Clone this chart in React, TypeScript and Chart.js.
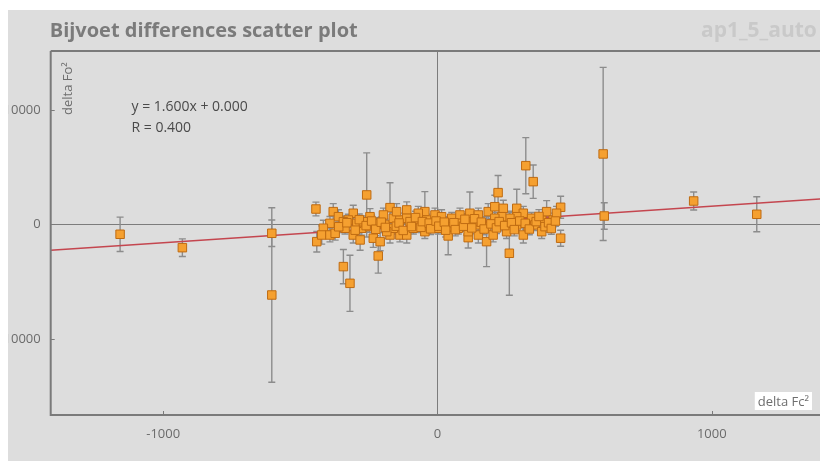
import React, { useEffect, useRef } from "react";
import { Chart, registerables } from "chart.js";

Chart.register(...registerables);

// ---- data (delta Fc², delta Fo², sigma of delta Fo²) ----
const deltaFc: number[] = [
  -1157, -930, -604, -604, 604, 608, 934, 1164,
  -443, -258, -173, -380, -361, -307, -325, -343, -392, -416, -440, -422,
  -392, -373, -307, -282, -234, -209, -216, -343, -276, -246, -248, -221,
  -197, -191, -173, -161, -137, -112, -112, -137, -112, -76, -88, -46,
  -39, -46, -15, -9, -70, -337, -294, -270, -161, -149, -185, -319,
  39, 112, 15, 52, 82, 118, 149, 185, 209, 240, 289, 313, 289, 264, 234, 209,
  343, 380, 398, 422, 449, 434, 3, 15, 76, 112, 149, 179, 179, 203, 252, 262,
  289, 313, 331, 355, 380, 392, 449, 149, 46, 88, 130, 322, 349, 221,
  -360, -330, -300, -285, -260, -240, -225, -205, -190, -150, -140, -125,
  -100, -95, -80, -60, -55, -30, -25, -5, 5, 25, 30, 60, 65, 95, 100, 125,
  135, 160, 170, 195, 215, 225, 245, 270, 280, 300, 320, 335, 360, 370,
  405, 415, 430,
];
const deltaFo: number[] = [
  -856, -2026, -770, -6160, 6160, 740, 2050, 890,
  1350, 2580, 1470, 1120, 680, 980, 390, 240, 100, -330, -1500, -920,
  -920, -770, -920, -1350, -1200, -1500, -2750, -3680, -330, 680, -190, 100,
  830, -40, -920, 540, 390, 1270, 540, -920, -920, 100, -330, 1120,
  390, -630, -40, 830, 980, -330, 100, 240, -330, 1120, -630, -5140,
  -1000, -1150, 680, 540, 830, 980, 830, 1120, 1550, 1410, 1410, 980, 680, 540, 680, 540,
  540, 390, 1120, 390, 1500, 980, -330, -40, -330, -630, -40, -190, -1500, -920, -630, -2515,
  -40, -920, -190, -40, -630, -190, -1200, -920, -190, 100, 240, 5135, 3740, 2780,
  -200, 150, -500, 420, -100, 300, -420, 200, -260, -150, 130, -520,
  250, -180, 600, -250, 250, 120, -380, 300, -150, 200, -500, 150, -450, -150, 450, -300,
  500, 200, -400, 50, -300, 250, -100, 150, -450, 300, 100, -400, 250, 700,
  150, -350, 300,
];
const sigmaFo: number[] = [
  1500, 770, 1160, 7620, 7560, 1160, 790, 1530,
  600, 3670, 2180, 700, 600, 700, 500, 500, 600, 700, 900, 800,
  600, 600, 700, 900, 800, 800, 1500, 1500, 600, 700, 500, 500,
  600, 500, 700, 500, 600, 700, 500, 600, 700, 500, 500, 1750,
  500, 600, 500, 600, 600, 500, 500, 500, 500, 700, 600, 2450,
  1650, 900, 600, 500, 600, 1850, 600, 700, 1000, 700, 1660, 600, 600, 500, 500, 500,
  500, 600, 960, 600, 960, 600, 500, 500, 500, 600, 500, 500, 2180, 600, 600, 3670,
  500, 700, 500, 500, 600, 500, 700, 700, 500, 500, 500, 2450, 1460, 1500,
  500, 450, 600, 500, 450, 500, 550, 450, 500, 450, 500, 600,
  450, 500, 550, 450, 500, 450, 500, 450, 500, 450, 600, 500, 550, 450, 500, 500,
  550, 450, 500, 450, 500, 500, 450, 500, 550, 450, 500, 500, 450, 600,
  500, 500, 450,
];

const xTickValues = [-1000, 0, 1000];
const yTickValues = [-10000, 0, 10000];
const fitSlope = 1.6;
const fitIntercept = 0.0;
const fitR = 0.4;

const titleText = "Bijvoet differences scatter plot";
const subtitleText = "ap1_5_auto";
const xAxisTitle = "delta Fc\u00B2";
const yAxisTitle = "delta Fo\u00B2";

// axis ranges
const X_MIN = -1410;
const X_MAX = 1544;
const Y_MIN = -16640;
const Y_MAX = 15150;

// canvas geometry (canvas x = page x + 32, canvas y = page y - 10)
const CW = 900;
const CH = 451;
const FONT = "'Open Sans', 'DejaVu Sans', sans-serif";

export default function App() {
  const ref = useRef<HTMLCanvasElement | null>(null);

  useEffect(() => {
    const canvas = ref.current;
    if (!canvas) return;

    const points = deltaFc.map((x, i) => ({ x, y: deltaFo[i] }));
    const fitLine = [
      { x: X_MIN, y: fitSlope * X_MIN + fitIntercept },
      { x: X_MAX, y: fitSlope * X_MAX + fitIntercept },
    ];

    const decor = {
      id: "decor",
      beforeDraw(chart: any) {
        const ctx = chart.ctx;
        ctx.save();
        ctx.fillStyle = "#dddddd";
        ctx.fillRect(0, 0, chart.width, chart.height);
        ctx.restore();
      },
      beforeDatasetsDraw(chart: any) {
        const ctx = chart.ctx;
        const a = chart.chartArea;
        const xs = chart.scales.x;
        const ys = chart.scales.y;
        ctx.save();
        ctx.beginPath();
        ctx.rect(a.left, a.top, a.right - a.left, a.bottom - a.top);
        ctx.clip();
        // zero lines
        ctx.strokeStyle = "#7c7c7c";
        ctx.lineWidth = 1;
        const x0 = Math.round(xs.getPixelForValue(0)) + 0.5;
        const y0 = Math.round(ys.getPixelForValue(0)) + 0.5;
        ctx.beginPath();
        ctx.moveTo(x0, a.top);
        ctx.lineTo(x0, a.bottom);
        ctx.moveTo(a.left, y0);
        ctx.lineTo(a.right, y0);
        ctx.stroke();
        // error bars
        ctx.strokeStyle = "#8c8c8c";
        ctx.lineWidth = 1.4;
        for (let i = 0; i < deltaFc.length; i++) {
          const px = xs.getPixelForValue(deltaFc[i]);
          const top = ys.getPixelForValue(deltaFo[i] + sigmaFo[i]);
          const bot = ys.getPixelForValue(deltaFo[i] - sigmaFo[i]);
          ctx.beginPath();
          ctx.moveTo(px, top);
          ctx.lineTo(px, bot);
          ctx.moveTo(px - 3.5, top);
          ctx.lineTo(px + 3.5, top);
          ctx.moveTo(px - 3.5, bot);
          ctx.lineTo(px + 3.5, bot);
          ctx.stroke();
        }
        ctx.restore();
      },
      afterDraw(chart: any) {
        const ctx = chart.ctx;
        const a = chart.chartArea;
        const xs = chart.scales.x;
        const ys = chart.scales.y;
        ctx.save();
        // axis lines and top border
        ctx.strokeStyle = "#7a7a7a";
        ctx.lineWidth = 2;
        ctx.beginPath();
        ctx.moveTo(a.left, a.top);
        ctx.lineTo(CW, a.top);
        ctx.moveTo(a.left, a.top);
        ctx.lineTo(a.left, a.bottom);
        ctx.lineTo(CW, a.bottom);
        ctx.stroke();
        // tick marks (inside)
        ctx.lineWidth = 1;
        ctx.strokeStyle = "#7a7a7a";
        ctx.beginPath();
        xTickValues.forEach((v) => {
          const px = Math.round(xs.getPixelForValue(v)) + 0.5;
          ctx.moveTo(px, a.bottom);
          ctx.lineTo(px, a.bottom - 4);
        });
        yTickValues.forEach((v) => {
          const py = Math.round(ys.getPixelForValue(v)) + 0.5;
          ctx.moveTo(a.left, py);
          ctx.lineTo(a.left + 4, py);
        });
        ctx.stroke();

        // title and subtitle
        ctx.font = `bold 20px ${FONT}`;
        ctx.textBaseline = "alphabetic";
        ctx.textAlign = "left";
        ctx.fillStyle = "#7b7b7b";
        ctx.fillText(titleText, a.left - 1, 27);
        ctx.font = `bold 21px ${FONT}`;
        ctx.fillStyle = "#c9c9c9";
        ctx.fillText(subtitleText, 733, 27);

        // y axis title (rotated)
        ctx.save();
        ctx.font = `13px ${FONT}`;
        ctx.fillStyle = "#6e6e6e";
        ctx.translate(a.left + 21, a.top + 64);
        ctx.rotate(-Math.PI / 2);
        ctx.textAlign = "left";
        ctx.fillText(yAxisTitle, 0, 0);
        ctx.restore();

        // x axis title with white box
        ctx.font = `13px ${FONT}`;
        const tw = ctx.measureText(xAxisTitle).width;
        const boxRight = 844;
        const boxW = tw + 6;
        ctx.fillStyle = "#ffffff";
        ctx.fillRect(boxRight - boxW, a.bottom - 23, boxW, 18);
        ctx.fillStyle = "#6e6e6e";
        ctx.textAlign = "left";
        ctx.fillText(xAxisTitle, boxRight - boxW + 3, a.bottom - 9);

        // fit equation
        ctx.font = `14px ${FONT}`;
        ctx.fillStyle = "#4a4a4a";
        ctx.fillText(
          `y = ${fitSlope.toFixed(3)}x + ${fitIntercept.toFixed(3)}`,
          163.5,
          101
        );
        ctx.fillText(`R = ${fitR.toFixed(3)}`, 163.5, 121.5);
        ctx.restore();
      },
    };

    const chart = new Chart(canvas, {
      type: "scatter",
      data: {
        datasets: [
          {
            type: "line" as any,
            data: fitLine,
            borderColor: "#c4464f",
            borderWidth: 1.6,
            pointRadius: 0,
            fill: false,
            order: 2,
          },
          {
            type: "scatter",
            data: points,
            pointStyle: "rect",
            pointRadius: 6,
            backgroundColor: "#f5a030",
            borderColor: "#bf6b12",
            borderWidth: 1,
            order: 1,
          },
        ] as any,
      },
      options: {
        animation: false,
        responsive: false,
        maintainAspectRatio: false,
        devicePixelRatio: 1,
        layout: { padding: { top: 41, left: 0, right: 0, bottom: 0 } },
        plugins: {
          legend: { display: false },
          tooltip: { enabled: false },
          title: { display: false },
        },
        scales: {
          x: {
            type: "linear",
            min: X_MIN,
            max: X_MAX,
            afterFit: (s: any) => {
              s.height = 46;
              s.paddingLeft = 0;
              s.paddingRight = 0;
            },
            grid: { display: false, drawTicks: false },
            border: { display: false },
            afterBuildTicks: (s: any) => {
              s.ticks = xTickValues.map((v) => ({ value: v }));
            },
            ticks: {
              padding: 11,
              color: "#6b6b6b",
              font: { family: FONT, size: 13 },
              callback: (v: any) => String(v),
            },
          },
          y: {
            type: "linear",
            min: Y_MIN,
            max: Y_MAX,
            afterFit: (s: any) => {
              s.width = 82.7;
              s.paddingTop = 0;
              s.paddingBottom = 0;
            },
            grid: { display: false, drawTicks: false },
            border: { display: false },
            afterBuildTicks: (s: any) => {
              s.ticks = yTickValues.map((v) => ({ value: v }));
            },
            ticks: {
              padding: 10,
              color: "#6b6b6b",
              font: { family: FONT, size: 13 },
              callback: (v: any) => String(v),
            },
          },
        },
      } as any,
      plugins: [decor],
    });

    return () => {
      chart.destroy();
    };
  }, []);

  return (
    <div
      style={{
        position: "fixed",
        left: 8,
        top: 10,
        width: 812,
        height: CH,
        overflow: "hidden",
        background: "#dddddd",
      }}
    >
      <canvas
        ref={ref}
        width={CW}
        height={CH}
        style={{ position: "absolute", left: -40, top: 0, width: CW, height: CH }}
      />
    </div>
  );
}
